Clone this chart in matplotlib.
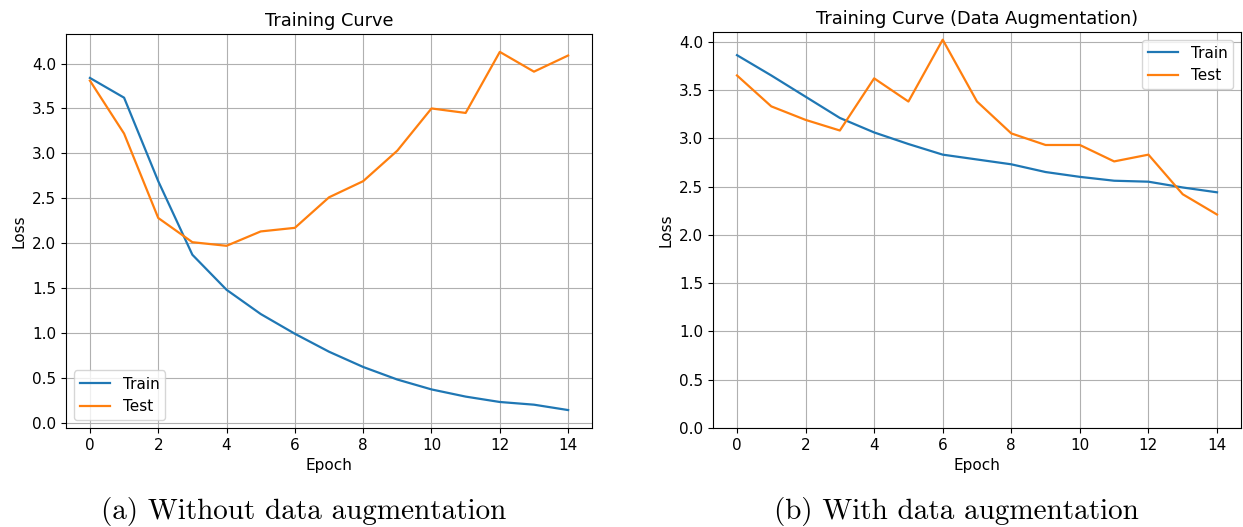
import matplotlib
matplotlib.use("Agg")
import matplotlib.pyplot as plt

epochs = list(range(15))
train_a = [3.84, 3.62, 2.69, 1.87, 1.48, 1.21, 0.99, 0.79, 0.62, 0.48, 0.37, 0.29, 0.23, 0.20, 0.14]
test_a = [3.81, 3.22, 2.28, 2.01, 1.97, 2.13, 2.17, 2.51, 2.69, 3.03, 3.50, 3.45, 4.13, 3.91, 4.09]
train_b = [3.86, 3.65, 3.43, 3.21, 3.06, 2.94, 2.83, 2.78, 2.73, 2.65, 2.60, 2.56, 2.55, 2.49, 2.44]
test_b = [3.65, 3.33, 3.19, 3.08, 3.62, 3.38, 4.02, 3.38, 3.05, 2.93, 2.93, 2.76, 2.83, 2.42, 2.21]
titles = ["Training Curve", "Training Curve (Data Augmentation)"]
captions = ["(a) Without data augmentation", "(b) With data augmentation"]

plt.rcParams['font.size'] = 11
fig = plt.figure(figsize=(12.43, 5.27), dpi=100)
ax1 = fig.add_axes([0.0531, 0.1879, 0.4232, 0.7476])
ax2 = fig.add_axes([0.5736, 0.1879, 0.4248, 0.7514])

ax1.plot(epochs, train_a, label="Train", lw=1.6)
ax1.plot(epochs, test_a, label="Test", lw=1.6)
ax1.set_title(titles[0], fontsize=12.8)
ax1.set_xlabel("Epoch")
ax1.set_ylabel("Loss")
ax1.grid(True)
ax1.legend(loc="lower left")

ax2.plot(epochs, train_b, label="Train", lw=1.6)
ax2.plot(epochs, test_b, label="Test", lw=1.6)
ax2.set_title(titles[1], fontsize=12.8)
ax2.set_xlabel("Epoch")
ax2.set_ylabel("Loss")
ax2.set_ylim(0, 4.1)
ax2.grid(True)
ax2.legend(loc="upper right")

for ax in (ax1, ax2):
    ax.set_xticks(range(0, 15, 2))

fig.text(0.2446, 0.03, captions[0], ha="center", va="center", fontsize=21, family="cmr10")
fig.text(0.7695, 0.03, captions[1], ha="center", va="center", fontsize=21, family="cmr10")

fig.savefig("out.png", dpi=100)
